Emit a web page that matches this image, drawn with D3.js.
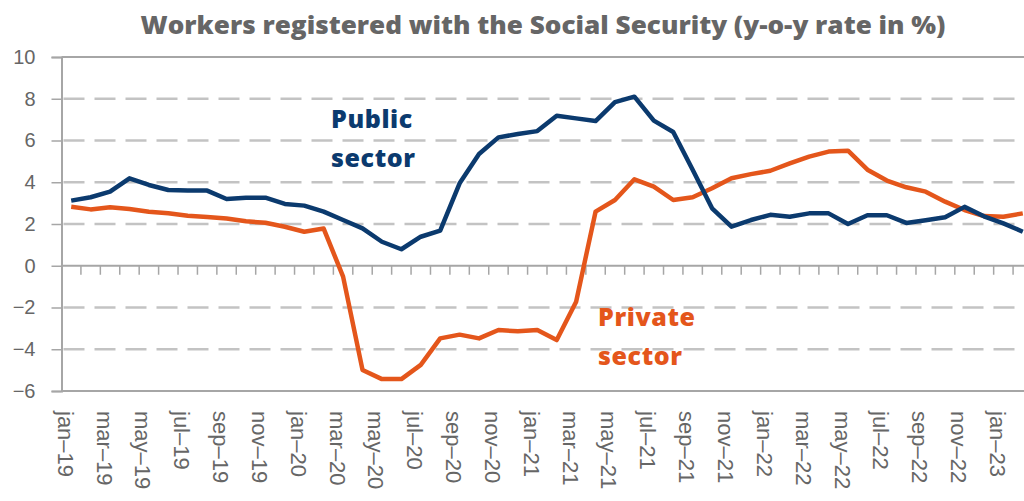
<!DOCTYPE html>
<html lang="en">
<head>
    <meta charset="UTF-8">
    <title>Workers registered with the Social Security</title>
    <script src="https://d3js.org/d3.v7.min.js"></script>
    <style>
        body {
            margin: 0;
            background: #fff;
            font-family: "Liberation Sans", Arial, sans-serif;
        }
        svg {
            display: block;
        }
        .title {
            font-family: "Open Sans", sans-serif;
            font-weight: 800;
            fill: #666;
        }
        .tick-label {
            fill: #666;
            font-size: 20px;
        }
        .series-label {
            font-family: "Open Sans", sans-serif;
            font-weight: 800;
            font-size: 25px;
            letter-spacing: 0.6px;
        }
    </style>
</head>
<body>
<div id="container"></div>
<script>
    // month categories (jan-19 .. feb-23)
    const months = [
        'jan–19','feb–19','mar–19','apr–19','may–19','jun–19','jul–19','aug–19','sep–19','oct–19','nov–19','dec–19',
        'jan–20','feb–20','mar–20','apr–20','may–20','jun–20','jul–20','aug–20','sep–20','oct–20','nov–20','dec–20',
        'jan–21','feb–21','mar–21','apr–21','may–21','jun–21','jul–21','aug–21','sep–21','oct–21','nov–21','dec–21',
        'jan–22','feb–22','mar–22','apr–22','may–22','jun–22','jul–22','aug–22','sep–22','oct–22','nov–22','dec–22',
        'jan–23','feb–23'
    ];

    // public sector, y-o-y %
    const publicSector = [
        3.12, 3.28, 3.55, 4.19, 3.87, 3.63, 3.6, 3.6, 3.2, 3.26, 3.26, 2.96,
        2.88, 2.59, 2.19, 1.79, 1.15, 0.79, 1.39, 1.68, 3.95, 5.35, 6.15, 6.31,
        6.45, 7.19, 7.06, 6.93, 7.84, 8.1, 6.95, 6.41, 4.6, 2.75, 1.87, 2.19,
        2.44, 2.35, 2.51, 2.51, 2.0, 2.42, 2.42, 2.05, 2.18, 2.32, 2.82, 2.37,
        2.03, 1.63
    ];

    // private sector, y-o-y %
    const privateSector = [
        2.83, 2.7, 2.8, 2.72, 2.59, 2.51, 2.4, 2.34, 2.26, 2.13, 2.06, 1.87,
        1.63, 1.78, -0.52, -4.99, -5.43, -5.43, -4.75, -3.48, -3.3, -3.48, -3.08, -3.14,
        -3.08, -3.56, -1.72, 2.59, 3.15, 4.14, 3.79, 3.15, 3.28, 3.71, 4.19, 4.39,
        4.55, 4.9, 5.23, 5.47, 5.51, 4.6, 4.08, 3.76, 3.55, 3.07, 2.67, 2.38,
        2.35, 2.51
    ];

    const yTicks = [-6, -4, -2, 0, 2, 4, 6, 8, 10];

    const titleText = 'Workers registered with the Social Security (y-o-y rate in %)';

    const width = 1024, height = 501;
    const plotLeft = 61.5, plotTop = 57, plotBottom = 391;
    const step = 19.42;

    const svg = d3.select('#container').append('svg')
        .attr('width', width)
        .attr('height', height);

    const x = d3.scaleBand()
        .domain(months)
        .range([plotLeft, plotLeft + step * months.length])
        .paddingInner(0)
        .paddingOuter(0);

    const y = d3.scaleLinear()
        .domain([-6, 10])
        .range([plotBottom, plotTop]);

    const cx = d => x(d) + x.bandwidth() / 2;

    // title
    svg.append('text')
        .attr('class', 'title')
        .attr('x', 543)
        .attr('y', 34)
        .attr('text-anchor', 'middle')
        .attr('textLength', 805)
        .attr('lengthAdjust', 'spacingAndGlyphs')
        .style('font-size', '25px')
        .text(titleText);

    // gridlines (dashed) except 0 / top / bottom
    svg.append('g')
        .selectAll('line')
        .data(yTicks.filter(t => t !== 0 && t !== 10 && t !== -6))
        .enter()
        .append('line')
        .attr('x1', plotLeft + 2)
        .attr('x2', width)
        .attr('y1', d => y(d))
        .attr('y2', d => y(d))
        .attr('stroke', '#c3c3c3')
        .attr('stroke-width', 2.5)
        .attr('stroke-dasharray', '21,10');

    // top and bottom solid borders
    svg.append('g')
        .selectAll('line')
        .data([10, -6])
        .enter()
        .append('line')
        .attr('x1', plotLeft)
        .attr('x2', width)
        .attr('y1', d => y(d))
        .attr('y2', d => y(d))
        .attr('stroke', '#a6a6a6')
        .attr('stroke-width', 2);

    // y axis
    const yAxis = d3.axisLeft(y)
        .tickValues(yTicks)
        .tickSize(10)
        .tickPadding(16)
        .tickFormat(d => d < 0 ? '−' + Math.abs(d) : d);

    const yG = svg.append('g')
        .attr('transform', `translate(${plotLeft},0)`)
        .call(yAxis);
    yG.select('.domain').attr('stroke', '#a6a6a6').attr('stroke-width', 2);
    yG.selectAll('.tick line').attr('stroke', '#a6a6a6').attr('stroke-width', 1.5);
    yG.selectAll('.tick text')
        .attr('class', 'tick-label')
        .style('font-family', '"Liberation Sans", Arial, sans-serif');

    // zero line with category boundary ticks
    svg.append('line')
        .attr('x1', plotLeft)
        .attr('x2', width)
        .attr('y1', y(0))
        .attr('y2', y(0))
        .attr('stroke', '#a6a6a6')
        .attr('stroke-width', 2);

    svg.append('g')
        .selectAll('line')
        .data(months.slice(1))
        .enter()
        .append('line')
        .attr('x1', d => x(d))
        .attr('x2', d => x(d))
        .attr('y1', y(0))
        .attr('y2', y(0) + 9)
        .attr('stroke', '#a6a6a6')
        .attr('stroke-width', 1.5);

    // x labels every 2 months, rotated
    svg.append('g')
        .selectAll('text')
        .data(months.filter((d, i) => i % 2 === 0))
        .enter()
        .append('text')
        .attr('class', 'tick-label')
        .attr('transform', d => `translate(${cx(d) - 6},${plotBottom + 20}) rotate(90)`)
        .attr('dominant-baseline', 'central')
        .style('font-size', '22px')
        .text(d => d);

    // lines
    const line = d3.line()
        .x((d, i) => cx(months[i]))
        .y(d => y(d));

    svg.append('path')
        .datum(privateSector)
        .attr('fill', 'none')
        .attr('stroke', '#e4561b')
        .attr('stroke-width', 4.5)
        .attr('stroke-linejoin', 'round')
        .attr('d', line);

    svg.append('path')
        .datum(publicSector)
        .attr('fill', 'none')
        .attr('stroke', '#0b3a6e')
        .attr('stroke-width', 4.5)
        .attr('stroke-linejoin', 'round')
        .attr('d', line);

    // series labels
    const pub = svg.append('text')
        .attr('class', 'series-label')
        .attr('fill', '#0b3a6e');
    pub.append('tspan').attr('x', 331).attr('y', 128).text('Public');
    pub.append('tspan').attr('x', 331).attr('y', 167).text('sector');

    const priv = svg.append('text')
        .attr('class', 'series-label')
        .attr('fill', '#e4561b');
    priv.append('tspan').attr('x', 598).attr('y', 326).text('Private');
    priv.append('tspan').attr('x', 598).attr('y', 365).text('sector');
</script>
</body>
</html>
